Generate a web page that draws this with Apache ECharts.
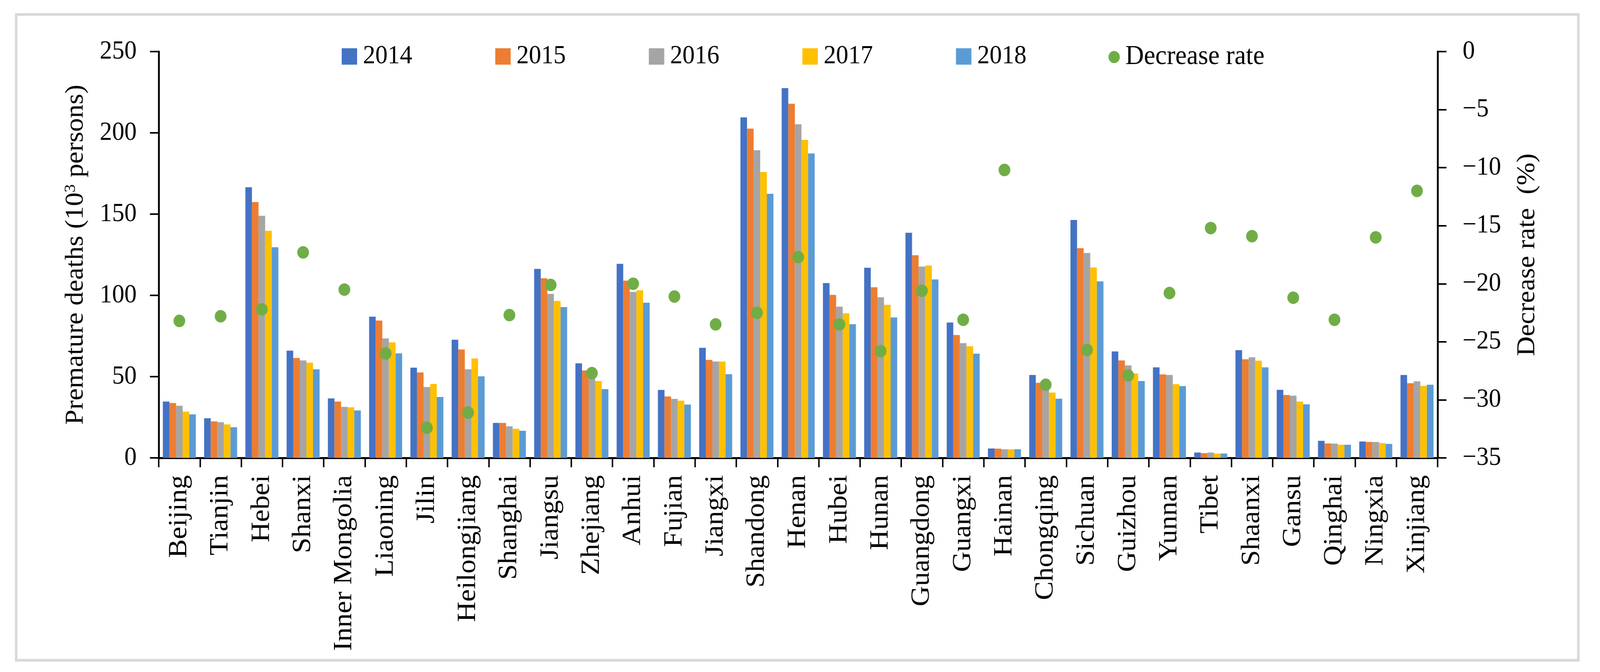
<!DOCTYPE html>
<html>
<head>
<meta charset="utf-8">
<script src="https://cdn.jsdelivr.net/npm/echarts@6/dist/echarts.min.js"></script>
<style>
html,body{margin:0;padding:0;background:#fff;overflow:hidden;}
#wrap{width:4355px;height:1720px;transform-origin:0 0;}
#c{width:4355px;height:1720px;}
</style>
</head>
<body>
<div id="wrap"><div id="c"></div></div>
<script>
const categories = ['Beijing','Tianjin','Hebei','Shanxi','Inner Mongolia','Liaoning','Jilin','Heilongjiang','Shanghai','Jiangsu','Zhejiang','Anhui','Fujian','Jiangxi','Shandong','Henan','Hubei','Hunan','Guangdong','Guangxi','Hainan','Chongqing','Sichuan','Guizhou','Yunnan','Tibet','Shaanxi','Gansu','Qinghai','Ningxia','Xinjiang'];
const v2014 = [34.7,24.4,166.5,66,36.6,86.9,55.5,72.7,21.5,116.3,58.2,119.4,41.8,67.7,209.5,227.5,107.6,117,138.5,83.3,5.8,51,146.4,65.5,55.7,3.3,66.3,41.9,10.5,10.1,51];
const v2015 = [33.8,22.5,157.4,61.5,34.7,84.5,52.6,66.7,21.5,110.5,53.8,109.1,37.8,60.3,202.6,217.9,100.3,105,124.7,75.6,5.7,46.2,129,60,51.4,2.9,60.7,38.7,8.9,9.8,46];
const v2016 = [32.1,22.0,149,60,31.4,73.5,43.6,54.5,19.4,100.9,48.6,102.1,36.3,59.3,189.3,205.3,93,98.8,117.7,70.6,5.3,42.6,126.1,56.9,51,3.3,61.9,38.3,8.8,9.8,47.1];
const v2017 = [28.5,20.6,139.7,58.6,31.1,71.1,45.5,61.2,17.9,96.6,47.3,103.1,35.2,59.3,175.9,195.7,89,94.2,118.4,68.7,5.3,40.2,117.2,51.9,45.4,2.7,59.8,34.7,8.1,9.1,44.3];
const v2018 = [26.8,18.9,129.6,54.5,29.2,64.3,37.5,50.2,16.7,92.8,42.3,95.5,32.8,51.5,162.5,187.3,82.3,86.4,109.8,64.1,5.3,36.4,108.6,47.3,44.2,2.7,55.7,33,8.1,8.6,45];
const decreaseRate = [-23.2,-22.8,-22.2,-17.3,-20.5,-26.0,-32.4,-31.1,-22.7,-20.1,-27.7,-20.0,-21.1,-23.5,-22.5,-17.7,-23.5,-25.8,-20.6,-23.1,-10.2,-28.7,-25.7,-27.9,-20.8,-15.2,-15.9,-21.2,-23.1,-16.0,-12.0];
const years = ['2014','2015','2016','2017','2018'];
const leftTicks = {min:0, max:250, interval:50};
const rightTicks = {min:-35, max:0, interval:5};

const FONT = 'Liberation Serif';
const colors = ['#4472C4','#ED7D31','#A5A5A5','#FFC000','#5B9BD5'];
const yearData = [v2014, v2015, v2016, v2017, v2018];

// fit the 4355x1720 design into the actual viewport
const sx = Math.min(1, window.innerWidth / 4355);
const sy = Math.min(1, window.innerHeight / 1720);
document.getElementById('wrap').style.transform = 'scale(' + sx + ',' + sy + ')';

const chart = echarts.init(document.getElementById('c'));
const barSeries = years.map((y, i) => ({
  name: y, type: 'bar', data: yearData[i], yAxisIndex: 0,
  barGap: '0%', barCategoryGap: '20%',
  itemStyle: {color: colors[i]}
}));
const axisLineStyle = {color:'#000', width:5};
chart.setOption({
  animation: false,
  textStyle: {fontFamily: FONT, color:'#000'},
  graphic: [{
    type:'rect', shape:{x:44, y:37, width:4252, height:1653},
    style:{fill:'none', stroke:'#d9d9d9', lineWidth:7}, z:-10
  }],
  legend: [{
    data: years.map(y => ({name:y, icon:'rect'})),
    left: 925, top: 106, itemWidth: 42, itemHeight: 42, itemGap: 226,
    textStyle: {fontFamily: FONT, fontSize: 67, color:'#000', padding:[0,0,0,11]}
  },{
    data: [{name:'Decrease rate', icon:'circle'}],
    left: 3012, top: 106, itemWidth: 31, itemHeight: 31, itemGap: 10,
    textStyle: {fontFamily: FONT, fontSize: 70, color:'#000', padding:[0,0,0,10]}
  }],
  grid: {left: 432, right: 442, top: 132, bottom: 548, containLabel:false},
  xAxis: {
    type:'category', data: categories,
    axisLine: {lineStyle: axisLineStyle},
    axisTick: {show:true, length:24, lineStyle:{color:'#000', width:4}},
    axisLabel: {rotate: 90, interval: 0, margin: 44, fontFamily: FONT, fontSize: 72, color:'#000'}
  },
  yAxis: [{
    type:'value', min: leftTicks.min, max: leftTicks.max, interval: leftTicks.interval,
    splitLine:{show:false},
    axisLine:{show:true, lineStyle: axisLineStyle},
    axisTick:{show:true, length:24, lineStyle:{color:'#000', width:4}},
    axisLabel:{margin: 60, fontFamily: FONT, fontSize: 67, color:'#000'},
    name: '{a|Premature deaths (10}{s|3}{a| persons)}',
    nameLocation:'middle', nameRotate: 90, nameGap: 190,
    nameTextStyle:{fontFamily: FONT, color:'#000', rich:{
      a:{fontFamily: FONT, fontSize: 70, color:'#000'},
      s:{fontFamily: FONT, fontSize: 42, color:'#000', verticalAlign:'top', padding:[0,0,24,0]}
    }}
  },{
    type:'value', min: rightTicks.min, max: rightTicks.max, interval: rightTicks.interval,
    position:'right',
    splitLine:{show:false},
    axisLine:{show:true, lineStyle: axisLineStyle},
    axisTick:{show:true, length:24, lineStyle:{color:'#000', width:4}},
    axisLabel:{margin: 68, fontFamily: FONT, fontSize: 67, color:'#000',
      formatter: v => String(v).replace('-', '\u2212')},
    name: 'Decrease rate  (%)',
    nameLocation:'middle', nameRotate: 90, nameGap: 210,
    nameTextStyle:{fontFamily: FONT, fontSize: 70, color:'#000'}
  }],
  series: barSeries.concat([{
    name:'Decrease rate', type:'scatter', yAxisIndex: 1, data: decreaseRate,
    symbol:'circle', symbolSize: 32, itemStyle:{color:'#70AD47', opacity:1}, z: 5
  }])
});
</script>
</body>
</html>
